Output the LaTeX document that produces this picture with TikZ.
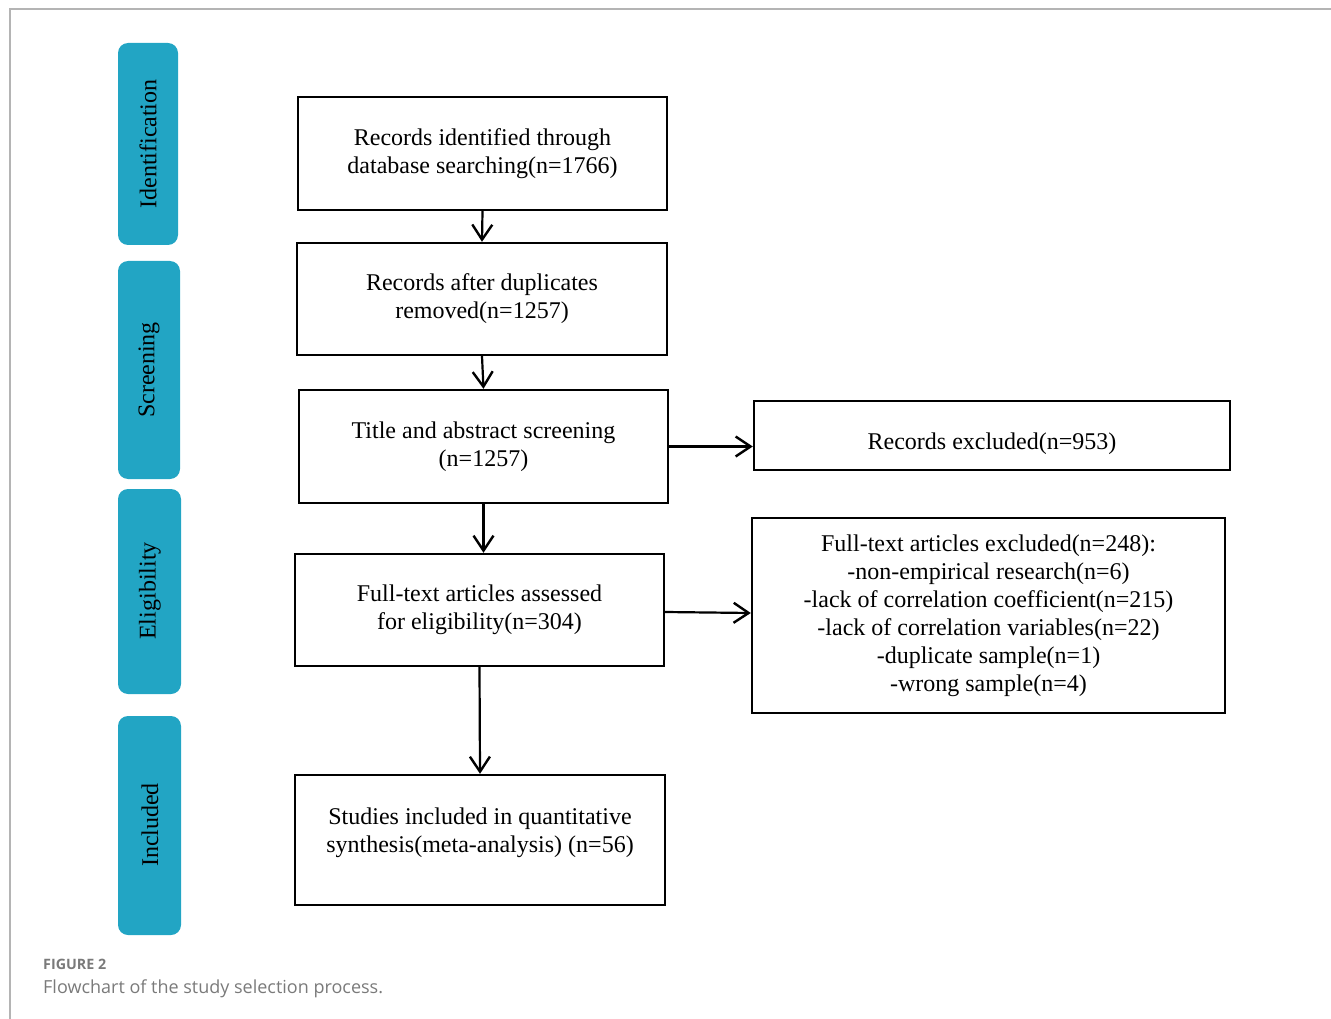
\documentclass[tikz,border=0pt]{standalone}
\usepackage{fontspec}
\setmainfont{Liberation Serif}
\newfontfamily\capfont{Open Sans}
\usetikzlibrary{arrows.meta}
\definecolor{teal1}{HTML}{22A5C4}
\definecolor{framegray}{HTML}{B4B4B4}
\definecolor{capgray}{HTML}{7A7A7A}
\begin{document}
\begin{tikzpicture}[x=1pt,y=-1pt,
  boxstyle/.style={draw=black,line width=2.4pt,inner sep=0pt,align=center,
    font=\fontsize{24}{28}\selectfont},
  boxtext/.style={align=center,font=\fontsize{24}{28}\selectfont,inner sep=0pt},
  sidebar/.style={fill=teal1,rounded corners=10pt},
  sidelabel/.style={rotate=90,font=\fontsize{24}{28}\selectfont},
  flow/.style={line width=2.2pt,-{Straight Barb[length=15pt,width=20pt,line width=2.4pt]}}
]
\useasboundingbox (0,0) rectangle (1331,1019);
\draw[framegray,line width=2pt] (10,1019) -- (10,9) -- (1331,9);

% side bars
\fill[sidebar] (118,43) rectangle (178,245);
\node[sidelabel] (lid) at (148,144) {Identification};
\fill[sidebar] (118,261) rectangle (180,479);
\node[sidelabel] (lsc) at (149,370) {Screening};
\fill[sidebar] (118,489) rectangle (181,694);
\node[sidelabel] (lel) at (150,591) {Eligibility};
\fill[sidebar] (118,716) rectangle (181,935);
\node[sidelabel] (lin) at (150,825) {Included};

% boxes
\node[boxstyle,minimum width=369pt,minimum height=113pt] (b1) at (482.5,153.5)
  {Records identified through\\database searching(n=1766)};
\node[boxstyle,minimum width=370pt,minimum height=112pt] (b2) at (482,299)
  {Records after duplicates\\removed(n=1257)};
\node[boxstyle,minimum width=369pt,minimum height=113pt] (b3) at (483.5,446.5)
  {Title and abstract screening\\(n=1257)};
\node[boxstyle,minimum width=369pt,minimum height=112pt] (b4) at (479.5,610)
  {Full-text articles assessed\\for eligibility(n=304)};
\node[boxstyle,minimum width=370pt,minimum height=130pt,
  label={[boxtext,yshift=7pt]center:{Studies included in quantitative\\synthesis(meta-analysis) (n=56)}}] (b5) at (480,840) {};
\node[boxstyle,minimum width=476pt,minimum height=69pt,
  label={[boxtext,yshift=-8pt]center:{Records excluded(n=953)}}] (b6) at (992,435.5) {};
\node[boxstyle,minimum width=473pt,minimum height=195pt] (b7) at (988.5,615.5)
  {Full-text articles excluded(n=248):\\-non-empirical research(n=6)\\-lack of correlation coefficient(n=215)\\-lack of correlation variables(n=22)\\-duplicate sample(n=1)\\-wrong sample(n=4)};

% arrows
\draw[flow] (b1.south) -- (b2.north);
\draw[flow] (b2.south) -- (b3.north);
\draw[flow] (b3.south) -- (b4.north -| b3.south);
\draw[flow] (b4.south) -- (b5.north);
\draw[flow] (b3.east) -- (b6.west |- b3.east);
\draw[flow] ([yshift=-2pt]b4.east) -- ([yshift=-3pt]b7.west |- b4.east);

% caption
\node[anchor=base west,inner sep=0pt,text=capgray,font=\capfont\fontsize{14.3}{16}\selectfont\bfseries] (cap1) at (43,969) {FIGURE 2};
\node[anchor=base west,inner sep=0pt,text=capgray,font=\capfont\fontsize{18}{21}\selectfont] (cap2) at (43,993) {Flowchart of the study selection process.};
\end{tikzpicture}
\end{document}
